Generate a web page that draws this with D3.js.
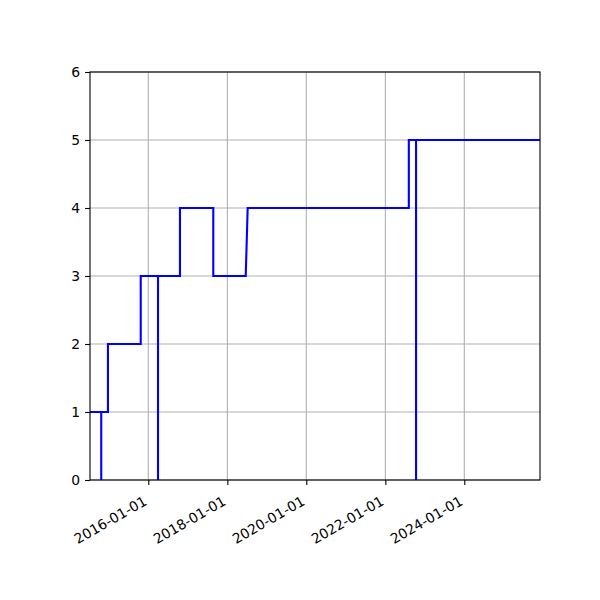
<!DOCTYPE html>
<html>
<head>
<meta charset="utf-8">
<script src="https://cdn.jsdelivr.net/npm/d3@7"></script>
<style>
  body { margin: 0; background: #fff; }
  text { font-family: "DejaVu Sans", sans-serif; }
</style>
</head>
<body>
<svg id="chart" width="600" height="600"></svg>
<script>
// line points (pairs at the same date make the vertical jumps)
const pointDates = [
  "2014-07-11", "2014-10-23", "2014-10-23", "2014-10-23", "2014-12-24", "2014-12-24",
  "2015-10-23", "2015-10-23", "2016-03-31", "2016-03-31", "2016-03-31", "2016-10-20",
  "2016-10-20", "2017-08-24", "2017-08-24", "2018-06-20", "2018-07-08", "2022-08-06",
  "2022-08-06", "2022-10-12", "2022-10-12", "2022-10-12", "2025-12-01"
]
const pointValues = [
  1, 1, 0, 1, 1, 2,
  2, 3, 3, 0, 3, 3,
  4, 4, 3, 3, 4, 4,
  5, 5, 0, 5, 5
]
const xTickLabels = ["2016-01-01", "2018-01-01", "2020-01-01", "2022-01-01", "2024-01-01"]
const yTickLabels = [0, 1, 2, 3, 4, 5, 6]

const parse = d3.timeParse("%Y-%m-%d")
const fmt = d3.timeFormat("%Y-%m-%d")
const data = pointDates.map((d, i) => ({ date: parse(d), value: pointValues[i] }))

const margin = { left: 90, right: 60, top: 72, bottom: 120 }
const svgWidth = 600, svgHeight = 600
const width = svgWidth - margin.left - margin.right,
      height = svgHeight - margin.top - margin.bottom

const svg = d3.select("#chart")
const g = svg.append("g")
  .attr("transform", "translate(" + margin.left + ", " + margin.top + ")")

const x = d3.scaleTime()
  .domain(d3.extent(data, d => d.date))
  .range([0, width])
const y = d3.scaleLinear()
  .domain([0, 6])
  .range([height, 0])

const xTicks = xTickLabels.map(parse)

// grid
g.append("g").selectAll("line.vgrid")
  .data(xTicks).enter().append("line")
  .attr("x1", d => x(d)).attr("x2", d => x(d))
  .attr("y1", 0).attr("y2", height)
  .attr("stroke", "#b0b0b0").attr("stroke-width", 1.1)
g.append("g").selectAll("line.hgrid")
  .data(yTickLabels).enter().append("line")
  .attr("x1", 0).attr("x2", width)
  .attr("y1", d => y(d)).attr("y2", d => y(d))
  .attr("stroke", "#b0b0b0").attr("stroke-width", 1.1)

// line
svg.append("clipPath").attr("id", "clip")
  .append("rect").attr("width", width).attr("height", height)
const line = d3.line().x(d => x(d.date)).y(d => y(d.value))
g.append("path")
  .datum(data)
  .attr("clip-path", "url(#clip)")
  .attr("fill", "none")
  .attr("stroke", "#0000ff")
  .attr("stroke-width", 2.1)
  .attr("stroke-linejoin", "miter")
  .attr("stroke-linecap", "butt")
  .attr("d", line)

// axes
const xAxis = g.append("g")
  .attr("transform", "translate(0, " + height + ")")
  .call(d3.axisBottom(x).tickValues(xTicks).tickFormat(fmt).tickSize(4.9).tickPadding(3))
xAxis.select(".domain").remove()
xAxis.selectAll("line").attr("stroke", "#000").attr("stroke-width", 1.1)
xAxis.selectAll("text")
  .attr("font-size", "13.9px")
  .attr("fill", "#000")
  .attr("text-anchor", "end")
  .attr("dy", null)
  .attr("y", 0)
  .attr("transform", "translate(-1, 24) rotate(-30)")

const yAxis = g.append("g")
  .call(d3.axisLeft(y).tickValues(yTickLabels).tickFormat(d3.format("d")).tickSize(4.9).tickPadding(4.9))
yAxis.select(".domain").remove()
yAxis.selectAll("line").attr("stroke", "#000").attr("stroke-width", 1.1)
yAxis.selectAll("text").attr("font-size", "13.9px").attr("fill", "#000")

// frame
g.append("rect")
  .attr("width", width).attr("height", height)
  .attr("fill", "none").attr("stroke", "#000").attr("stroke-width", 1.1)
</script>
</body>
</html>
